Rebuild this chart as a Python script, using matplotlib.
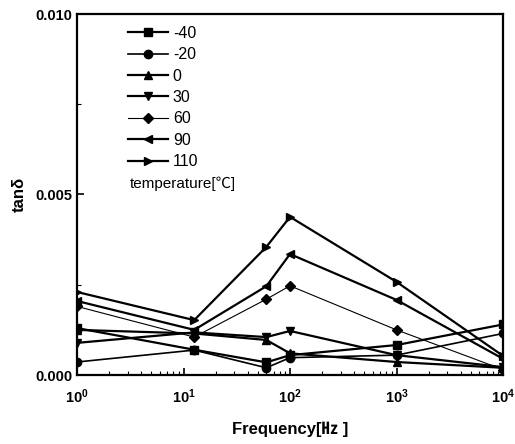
import matplotlib
matplotlib.use("Agg")
import matplotlib.pyplot as plt
from matplotlib.ticker import LogLocator, MultipleLocator, FixedLocator

plt.rcParams["font.family"] = ["Liberation Sans", "Noto Sans CJK SC", "DejaVu Sans"]

# measurement frequencies (Hz)
freq = [1, 12.6, 60, 100, 1000, 10000]

temps = ["-40", "-20", "0", "30", "60", "90", "110"]
markers = ["s", "o", "^", "v", "D", "<", ">"]

# tan delta per temperature
tan_m40 = [0.00130, 0.00070, 0.00035, 0.00055, 0.00083, 0.00140]
tan_m20 = [0.00036, 0.00069, 0.00020, 0.00048, 0.00055, 0.00115]
tan_0 = [0.00125, 0.00115, 0.00097, 0.00060, 0.00036, 0.00020]
tan_30 = [0.00089, 0.00118, 0.00105, 0.00122, 0.00055, 0.00022]
tan_60 = [0.00190, 0.00105, 0.00210, 0.00247, 0.00125, 0.00015]
tan_90 = [0.00205, 0.00125, 0.00246, 0.00335, 0.00208, 0.00045]
tan_110 = [0.00230, 0.00152, 0.00355, 0.00438, 0.00258, 0.00053]

series = [tan_m40, tan_m20, tan_0, tan_30, tan_60, tan_90, tan_110]
widths = [1.6, 1.2, 1.6, 1.6, 0.8, 1.6, 1.6]

fig = plt.figure(figsize=(5.15, 4.44), dpi=100)
ax = fig.add_axes([77 / 515, 1 - 375 / 444, 426 / 515, 361 / 444])

for vals, label, mk, lw in zip(series, temps, markers, widths):
    ax.plot(freq, vals, color="black", linewidth=lw, marker=mk,
            markersize=6 if mk != "D" else 5, label=label)

ax.set_xscale("log")
ax.set_xlim(1, 10000)
ax.set_ylim(0, 0.010)

ax.xaxis.set_major_locator(LogLocator(base=10, numticks=10))
ax.xaxis.set_minor_locator(LogLocator(base=10, subs=range(2, 10), numticks=10))
ax.yaxis.set_major_locator(FixedLocator([0.0, 0.005, 0.010]))
ax.yaxis.set_minor_locator(MultipleLocator(0.0025))
ax.yaxis.set_major_formatter(plt.FuncFormatter(lambda v, p: f"{v:.3f}"))

ax.tick_params(which="both", direction="in", top=False, right=False)
ax.tick_params(which="major", length=5, width=1.2, labelsize=10.5)
ax.tick_params(axis="x", which="major", pad=9)
ax.tick_params(which="minor", length=3, width=0.8)
for lbl in ax.get_xticklabels() + ax.get_yticklabels():
    lbl.set_fontweight("bold")
for sp in ax.spines.values():
    sp.set_linewidth(1.6)

ax.set_xlabel("Frequency[㎐ ]", fontsize=12, fontweight="bold", labelpad=11)
ax.set_ylabel("tanδ", fontsize=12, fontweight="bold", labelpad=6)

leg = ax.legend(loc="upper left", bbox_to_anchor=(0.105, 0.985), frameon=False,
                fontsize=11.5, handlelength=2.5, handletextpad=0.3,
                labelspacing=0.4, borderaxespad=0)
ax.text(0.125, 0.53, "temperature[℃]", transform=ax.transAxes,
        fontsize=11, va="center", ha="left")

fig.savefig("out.png", dpi=100)
